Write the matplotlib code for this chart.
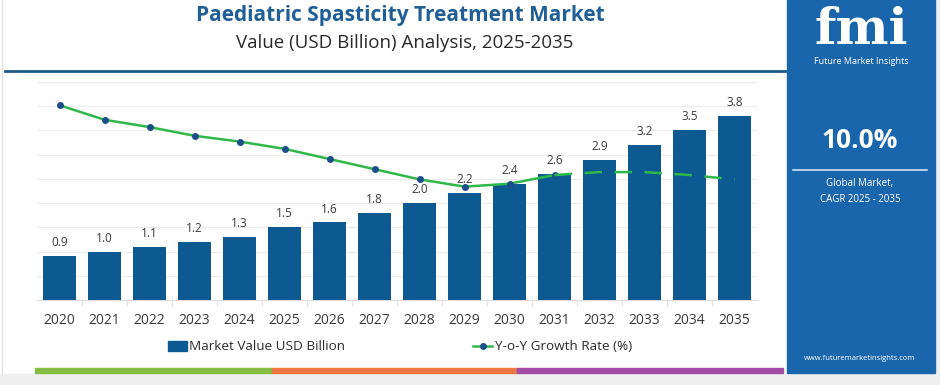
import matplotlib.pyplot as plt
from matplotlib.patches import Rectangle
from matplotlib.lines import Line2D

years = [str(y) for y in range(2020, 2036)]
market_value = [0.9, 1.0, 1.1, 1.2, 1.3, 1.5, 1.6, 1.8, 2.0, 2.2, 2.4, 2.6, 2.9, 3.2, 3.5, 3.8]
growth_rate = [13.4, 12.4, 11.9, 11.3, 10.9, 10.4, 9.7, 9.0, 8.3, 7.8, 8.0, 8.6, 8.8, 8.8, 8.6, 8.3]
solid_until = 11  # index of 2031, line turns dashed after it

BAR = "#0d5a92"
GREEN = "#2fb84a"
TITLE_BLUE = "#1f5f96"
PANEL = "#1a66ad"
TEXT = "#3a3a3a"

plt.rcParams["font.family"] = ["Open Sans", "DejaVu Sans"]

W, H = 940, 385
fig = plt.figure(figsize=(W / 100, H / 100), dpi=100)


def fx(x):
    return x / W


def fy(y):
    return 1 - y / H


# background pieces
fig.add_artist(Rectangle((0, 0), 1, fy(374), transform=fig.transFigure, color="#efefef", zorder=0))
fig.add_artist(Rectangle((fx(935), 0), fx(5), 1, transform=fig.transFigure, color="#efefef", zorder=0))
fig.add_artist(Line2D([fx(2), fx(2)], [fy(374), fy(0)], transform=fig.transFigure, color="#e2e2e2", lw=1))
fig.add_artist(Rectangle((fx(787), fy(373)), fx(148), fy(0) - fy(373), transform=fig.transFigure,
                         color=PANEL, zorder=1))

# colour strip at the bottom
for x0, x1, c in [(35, 272, "#86bd45"), (272, 517, "#e9773f"), (517, 783, "#a24ea8")]:
    fig.add_artist(Rectangle((fx(x0), fy(373)), fx(x1 - x0), fy(368) - fy(373),
                             transform=fig.transFigure, color=c, zorder=2))

# titles
fig.text(fx(400), fy(15), "Paediatric Spasticity Treatment Market", ha="center", va="center",
         fontsize=15, fontweight="bold", color=TITLE_BLUE)
fig.text(fx(405), fy(43), "Value (USD Billion) Analysis, 2025-2035", ha="center", va="center",
         fontsize=13.5, color="#2a2a2a")
fig.add_artist(Line2D([fx(5), fx(785)], [fy(71), fy(71)], transform=fig.transFigure,
                      color="#1d5a8a", lw=2))

# right panel
fig.text(fx(861), fy(31), "fmi", ha="center", va="center", fontsize=36, fontweight="bold",
         family="DejaVu Serif", color="white")
fig.text(fx(861), fy(61), "Future Market Insights", ha="center", va="center", fontsize=6.5, color="white")
fig.text(fx(860), fy(141), "10.0%", ha="center", va="center", fontsize=19, fontweight="bold", color="white")
fig.add_artist(Line2D([fx(793), fx(927)], [fy(170), fy(170)], transform=fig.transFigure,
                      color="#cfe0f0", lw=1.2))
fig.text(fx(860), fy(184), "Global Market,", ha="center", va="center", fontsize=7, color="white")
fig.text(fx(860), fy(200), "CAGR 2025 - 2035", ha="center", va="center", fontsize=7, color="white")
fig.text(fx(860), fy(359), "www.futuremarketinsights.com", ha="center", va="center", fontsize=5.5, color="white")

# main chart
ax = fig.add_axes([fx(37), fy(300), fx(720), fy(82) - fy(300)])
x = list(range(len(years)))
bars = ax.bar(x, market_value, width=0.73, color=BAR, zorder=3)
ax.bar_label(bars, labels=[f"{v:.1f}" for v in market_value], padding=5, fontsize=8.5, color=TEXT)
ax.set_xlim(-0.5, len(years) - 0.5)
ax.set_ylim(0, 4.5)
ax.set_yticks([i * 0.5 for i in range(10)])
ax.yaxis.grid(True, color="#ececec", lw=0.8, zorder=0)
ax.set_xticks(x)
ax.set_xticklabels(years, fontsize=10, color=TEXT)
ax.tick_params(axis="x", length=0, pad=9)
ax.set_xticks([i + 0.5 for i in x[:-1]], minor=True)
ax.tick_params(axis="x", which="minor", length=4, color="#dddddd")
for s in ["top", "right", "left"]:
    ax.spines[s].set_visible(False)
ax.spines["bottom"].set_color("#dddddd")

ax2 = ax.twinx()
ax2.set_ylim(0, 15)
ax2.plot(x[:solid_until + 1], growth_rate[:solid_until + 1], color=GREEN, lw=1.8,
         marker="o", markersize=4, markerfacecolor="#1b4f8a", markeredgecolor="#1b4f8a")
ax2.plot(x[solid_until:], growth_rate[solid_until:], color=GREEN, lw=1.8, dashes=(7, 5))
ax2.axis("off")
ax.tick_params(axis="y", left=False, right=False, labelleft=False)

# legend
handles = [
    Rectangle((0, 0), 1, 1, color=BAR),
    Line2D([], [], color=GREEN, lw=1.8, marker="o", markersize=4,
           markerfacecolor="#1b4f8a", markeredgecolor="#1b4f8a"),
]
fig.legend(handles, ["Market Value USD Billion", "Y-o-Y Growth Rate (%)"], loc="center",
           bbox_to_anchor=(fx(400), fy(347)), ncol=2, frameon=False, fontsize=9.7,
           handlelength=1.4, handletextpad=0.2, columnspacing=9.5, labelcolor="#2a2a2a")

fig.savefig("out.png", dpi=100)
